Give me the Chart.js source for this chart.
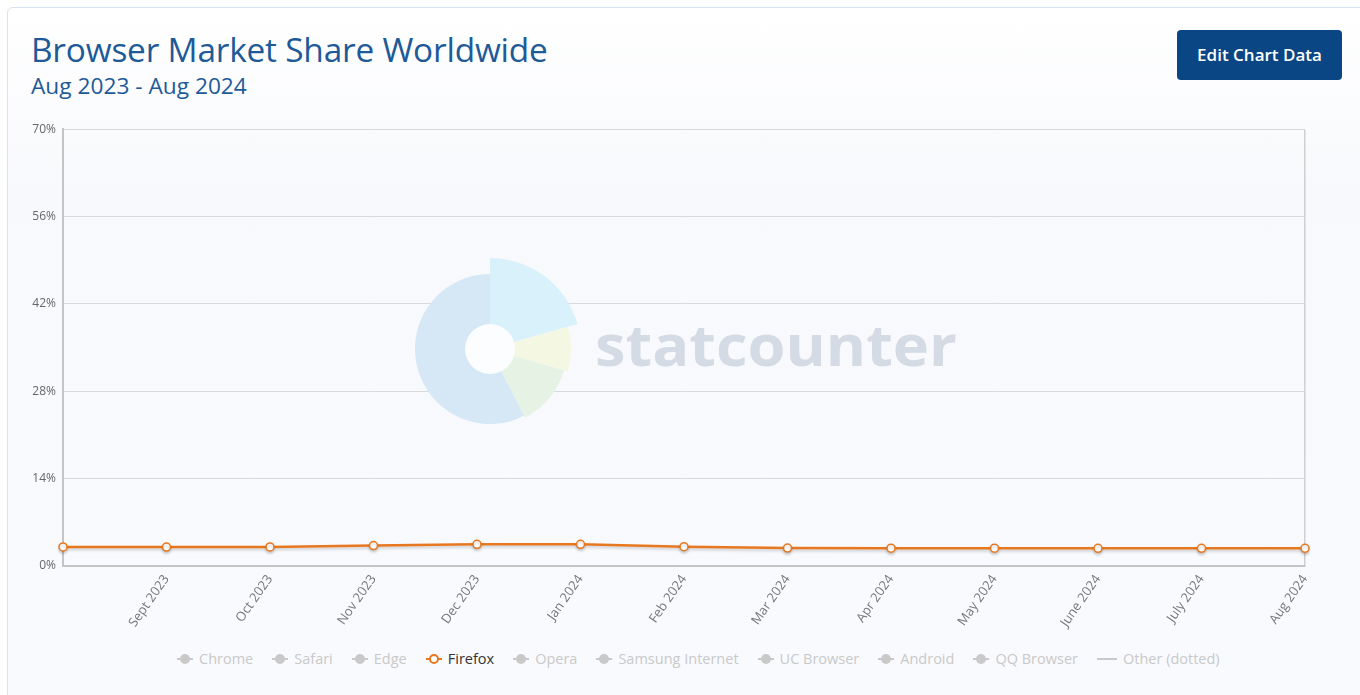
<!DOCTYPE html>
<html>
<head>
<meta charset="utf-8">
<script src="https://cdn.jsdelivr.net/npm/chart.js@4.4.1/dist/chart.umd.min.js"></script>
<style>
    html, body { margin: 0; padding: 0; }
    body {
        width: 1360px; height: 695px; overflow: hidden; position: relative;
        background: #ffffff; font-family: 'Open Sans', sans-serif;
    }
    .card {
        position: absolute; left: 7px; top: 7px; width: 1400px; height: 720px;
        border: 1px solid #d6e3f1; border-radius: 6px;
        background: linear-gradient(#ffffff, #f8f9fc 25%, #f9fafd);
    }
    h1 {
        position: absolute; left: 31px; top: 27px; margin: 0;
        font-size: 33.4px; font-weight: 400; color: #1e5a98; letter-spacing: -0.2px;
        line-height: 44px; white-space: nowrap;
    }
    .sub {
        position: absolute; left: 31px; top: 71px; margin: 0;
        font-size: 22.7px; color: #1e5a98; line-height: 30px; white-space: nowrap;
    }
    .btn {
        position: absolute; left: 1177px; top: 30px; width: 165px; height: 50px;
        background: #0a4584; border-radius: 4px; color: #fff;
        font-size: 17px; font-weight: 600; line-height: 50px; text-align: center;
    }
    .chart-box { position: absolute; left: 7px; top: 115px; width: 1320px; height: 520px; }
    .legend {
        position: absolute; left: 177px; top: 649px; display: flex; align-items: center;
        font-size: 14.5px; color: #c9c9c9; white-space: nowrap;
    }
    .legend .item { display: flex; align-items: center; margin-right: 19px; }
    .legend .mk { position: relative; width: 16px; height: 10px; margin-right: 6px; }
    .legend .mk::before {
        content: ''; position: absolute; left: 0; right: 0; top: 4px; height: 2px; background: #c9c9c9;
    }
    .legend .mk::after {
        content: ''; position: absolute; left: 3px; top: 0; width: 10px; height: 10px;
        border-radius: 50%; background: #c9c9c9;
    }
    .legend .item.on { color: #333; }
    .legend .item.on .mk::before { background: #e8781f; }
    .legend .item.on .mk::after {
        left: 3px; top: 0; width: 6px; height: 6px; background: #fff; border: 2px solid #e8781f;
    }
    .legend .item.line .mk::after { display: none; }
    .legend .item.line .mk { width: 20px; }
</style>
</head>
<body>
<div class="card"></div>
<h1>Browser Market Share Worldwide</h1>
<div class="sub">Aug 2023 - Aug 2024</div>
<div class="btn">Edit Chart Data</div>
<div class="chart-box"><canvas id="chart"></canvas></div>
<div class="legend" id="legend"></div>

<script>
// Data (only Firefox is switched on)
const months = ['Aug 2023', 'Sept 2023', 'Oct 2023', 'Nov 2023', 'Dec 2023', 'Jan 2024', 'Feb 2024',
                'Mar 2024', 'Apr 2024', 'May 2024', 'June 2024', 'July 2024', 'Aug 2024'];
const firefox = [3.05, 3.04, 3.05, 3.27, 3.48, 3.47, 3.1, 2.88, 2.86, 2.86, 2.84, 2.84, 2.83];
const yTicks = [0, 14, 28, 42, 56, 70];
const legendNames = ['Chrome', 'Safari', 'Edge', 'Firefox', 'Opera', 'Samsung Internet',
                     'UC Browser', 'Android', 'QQ Browser', 'Other (dotted)'];
const activeSeries = 'Firefox';

// legend (html, like the original)
document.getElementById('legend').innerHTML = legendNames.map(n => {
    let cls = 'item';
    if (n === activeSeries) cls += ' on';
    if (n.startsWith('Other')) cls += ' line';
    return `<div class="${cls}"><span class="mk"></span>${n}</div>`;
}).join('');

// faded statcounter logo behind the plot
const watermark = {
    id: 'watermark',
    beforeDatasetsDraw(chart) {
        const ctx = chart.ctx;
        const cx = 490 - 7, cy = 349 - 115;
        const deg = d => d * Math.PI / 180;
        const slices = [
            [-90, -16, 91, '#d9f1fb'],
            [-16, 16, 81, '#f4f8e2'],
            [16, 63, 77, '#e5f2e4'],
            [63, 270, 75, '#d6e7f6']
        ];
        ctx.save();
        slices.forEach(([a, b, r, c]) => {
            ctx.beginPath();
            ctx.moveTo(cx, cy);
            ctx.arc(cx, cy, r, deg(a), deg(b));
            ctx.closePath();
            ctx.fillStyle = c;
            ctx.fill();
        });
        ctx.beginPath();
        ctx.arc(cx, cy, 25, 0, Math.PI * 2);
        ctx.fillStyle = '#fcfdfe';
        ctx.fill();
        ctx.font = 'bold 58px "Open Sans"';
        ctx.fillStyle = '#d4dbe5';
        ctx.textBaseline = 'alphabetic';
        const w = ctx.measureText('statcounter').width;
        ctx.save();
        ctx.translate(595 - 7, 366 - 115);
        ctx.scale(362 / w, 1);
        ctx.fillText('statcounter', 0, 0);
        ctx.restore();
        ctx.restore();
    }
};

// soft shadow under the line
const lineShadow = {
    id: 'lineShadow',
    beforeDatasetDraw(chart) {
        const ctx = chart.ctx;
        ctx.save();
        ctx.shadowColor = 'rgba(0,0,0,0.18)';
        ctx.shadowBlur = 3;
        ctx.shadowOffsetY = 2;
    },
    afterDatasetDraw(chart) { chart.ctx.restore(); }
};

Chart.defaults.font.family = "'Open Sans', sans-serif";

new Chart(document.getElementById('chart'), {
    type: 'line',
    data: {
        labels: months,
        datasets: [{
            label: 'Firefox',
            data: firefox,
            borderColor: '#e8781f',
            borderWidth: 2.5,
            pointRadius: 4,
            pointBorderWidth: 1.5,
            pointBackgroundColor: '#ffffff',
            pointBorderColor: '#e8781f',
            tension: 0
        }]
    },
    options: {
        responsive: true, maintainAspectRatio: false, animation: false,
        layout: { padding: { top: 14, right: 22, left: 0, bottom: 0 } },
        plugins: { legend: { display: false }, tooltip: { enabled: false } },
        scales: {
            x: {
                offset: false,
                grid: {
                    drawTicks: false,
                    color: c => c.index === months.length - 1 ? '#cfcfcf' : 'rgba(0,0,0,0)',
                    lineWidth: 1.5
                },
                border: { color: '#c4c4c4', width: 2 },
                ticks: {
                    autoSkip: false, maxRotation: 55, minRotation: 55, padding: 6,
                    color: '#777', font: { size: 13 },
                    callback: (v, i) => i === 0 ? '' : months[i]
                },
                afterFit: s => { s.height = 69; }
            },
            y: {
                min: 0, max: 70,
                afterBuildTicks: s => { s.ticks = yTicks.map(v => ({ value: v })); },
                grid: { drawTicks: false, color: '#d9d9d9', lineWidth: 1 },
                border: { color: '#c4c4c4', width: 2 },
                ticks: {
                    padding: 7, color: '#666', font: { size: 12 },
                    callback: v => v + '%'
                },
                afterFit: s => { s.width = 56; }
            }
        }
    },
    plugins: [watermark, lineShadow]
});
</script>
</body>
</html>
